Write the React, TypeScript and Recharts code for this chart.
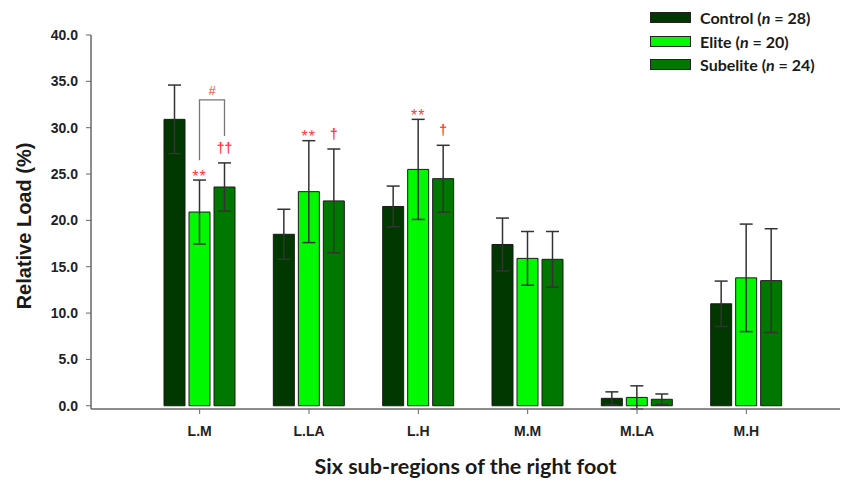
import React from 'react';
import { BarChart, Bar, XAxis, YAxis, ErrorBar, LabelList, Legend } from 'recharts';

// six sub-regions of the right foot
const categories = ['L.M', 'L.LA', 'L.H', 'M.M', 'M.LA', 'M.H'];

// mean relative load (%) and SD per group
const control = [30.9, 18.5, 21.5, 17.4, 0.8, 11.0];
const controlSd = [3.7, 2.7, 2.2, 2.85, 0.7, 2.45];
const elite = [20.9, 23.1, 25.5, 15.9, 0.9, 13.8];
const eliteSd = [3.45, 5.5, 5.4, 2.9, 1.25, 5.8];
const subelite = [23.6, 22.1, 24.5, 15.8, 0.7, 13.5];
const subeliteSd = [2.6, 5.6, 3.6, 3.0, 0.57, 5.6];

const yTicks = [0, 5, 10, 15, 20, 25, 30, 35, 40];

// significance marks above the error bars
const eliteMarks = ['**', '**', '**', '', '', ''];
const subeliteMarks = ['††', '†', '†', '', '', ''];

// bracket between elite and subelite on L.M (in % units)
const bracketLabel = '#';
const bracketTop = 33.0;
const bracketLeftFrom = 26.5;
const bracketRightFrom = 29.1;

const series = [
  { key: 'control', name: 'Control', n: 28, color: '#003800' },
  { key: 'elite', name: 'Elite', n: 20, color: '#00f800' },
  { key: 'subelite', name: 'Subelite', n: 24, color: '#007800' },
];

const data = categories.map((region, i) => ({
  region,
  control: control[i],
  controlSd: controlSd[i],
  elite: elite[i],
  eliteSd: eliteSd[i],
  subelite: subelite[i],
  subeliteSd: subeliteSd[i],
}));

const BAR_SIZE = 21;
const BAR_GAP = 4;
const MARK_COLOR = '#ff3a3a';
const AXIS_COLOR = '#666';

function makeMarks(marks: string[], values: number[], sds: number[], withBracket: boolean) {
  return (props: any) => {
    const vb = props.viewBox ?? props;
    const { x, y, width, height } = vb;
    const value = Number(props.value);
    const idx = props.index ?? values.indexOf(value);
    if (idx == null || idx < 0) return null;
    const ppu = height / value;
    const base = y + height;
    const py = (v: number) => base - v * ppu;
    const cx = x + width / 2;
    const errTop = py(value + sds[idx]);
    const mark = marks[idx];
    const isDagger = mark.includes('†');
    return (
      <g>
        {mark && (
          <text
            x={cx}
            y={errTop + (isDagger ? -10 : 1.5)}
            textAnchor="middle"
            fill={MARK_COLOR}
            fontSize={isDagger ? 14 : 16}
            fontWeight={isDagger ? 700 : 400}
            letterSpacing={isDagger ? 0 : 1}
            fontFamily="Liberation Sans, Arial, sans-serif"
          >
            {mark}
          </text>
        )}
        {withBracket && idx === 0 && (
          <g>
            <path
              d={`M${cx - BAR_SIZE - BAR_GAP},${py(bracketLeftFrom)} V${py(bracketTop)} H${cx} V${py(bracketRightFrom)}`}
              fill="none"
              stroke="#777"
              strokeWidth={1.3}
            />
            <text
              x={cx - (BAR_SIZE + BAR_GAP) / 2}
              y={py(bracketTop) - 5}
              textAnchor="middle"
              fill={MARK_COLOR}
              fontSize={13}
              fontFamily="Liberation Sans, Arial, sans-serif"
            >
              {bracketLabel}
            </text>
          </g>
        )}
      </g>
    );
  };
}

const renderLegend = () => (
  <div style={{ fontFamily: 'Lato, sans-serif', fontWeight: 700, fontSize: 16, color: '#1a1a1a' }}>
    {series.map((s) => (
      <div key={s.key} style={{ display: 'flex', alignItems: 'center', height: 23.5 }}>
        <span
          style={{
            display: 'inline-block',
            boxSizing: 'border-box',
            width: 41,
            height: 11,
            background: s.color,
            border: '1px solid #222',
            marginRight: 9,
          }}
        />
        <span>
          {s.name} (<i>n</i> = {s.n})
        </span>
      </div>
    ))}
  </div>
);

const tickStyle = { fontSize: 14, fontWeight: 700, fill: '#222', fontFamily: 'Liberation Sans, Arial, sans-serif' };

export default function App() {
  return (
    <div style={{ position: 'absolute', left: 0, top: 0, background: '#fff' }}>
      <BarChart
        width={842}
        height={483}
        data={data}
        margin={{ top: 35, right: 2, bottom: 0, left: 0 }}
        barSize={BAR_SIZE}
        barGap={BAR_GAP}
      >
        <XAxis
          dataKey="region"
          height={74}
          padding={{ left: 54, right: 39 }}
          tick={tickStyle}
          tickSize={5}
          tickMargin={12}
          axisLine={{ stroke: AXIS_COLOR, strokeWidth: 1.5 }}
          tickLine={{ stroke: AXIS_COLOR }}
          label={{
            content: (p: any) => {
              const vb = p.viewBox;
              return (
                <text
                  x={vb.x + vb.width / 2}
                  y={vb.y + 65}
                  textAnchor="middle"
                  fontSize={21.5}
                  fontWeight={700}
                  fontFamily="Lato, sans-serif"
                  fill="#1a1a1a"
                >
                  Six sub-regions of the right foot
                </text>
              );
            },
          }}
        />
        <YAxis
          width={91}
          domain={[0, 40]}
          ticks={yTicks}
          interval={0}
          tickFormatter={(v: number) => v.toFixed(1)}
          tick={tickStyle}
          tickSize={5}
          tickMargin={8}
          axisLine={{ stroke: AXIS_COLOR, strokeWidth: 1.5 }}
          tickLine={{ stroke: AXIS_COLOR }}
          label={{
            content: () => (
              <text
                x={31}
                y={226}
                transform="rotate(-90, 31, 226)"
                textAnchor="middle"
                fontSize={20}
                fontWeight={700}
                fontFamily="Liberation Sans, Arial, sans-serif"
                fill="#1a1a1a"
              >
                Relative Load (%)
              </text>
            ),
          }}
        />
        <Legend
          layout="vertical"
          align="center"
          verticalAlign="middle"
          content={renderLegend}
          wrapperStyle={{ top: 6, left: 650, width: 190 }}
        />
        <Bar dataKey="control" name="Control" fill={series[0].color} stroke="#1a1a1a" strokeWidth={1} isAnimationActive={false}>
          <ErrorBar dataKey="controlSd" width={6.5} stroke="#333" strokeWidth={1.5} isAnimationActive={false} />
        </Bar>
        <Bar dataKey="elite" name="Elite" fill={series[1].color} stroke="#1a1a1a" strokeWidth={1} isAnimationActive={false}>
          <ErrorBar dataKey="eliteSd" width={6.5} stroke="#333" strokeWidth={1.5} isAnimationActive={false} />
          <LabelList dataKey="elite" content={makeMarks(eliteMarks, elite, eliteSd, false)} />
        </Bar>
        <Bar dataKey="subelite" name="Subelite" fill={series[2].color} stroke="#1a1a1a" strokeWidth={1} isAnimationActive={false}>
          <ErrorBar dataKey="subeliteSd" width={6.5} stroke="#333" strokeWidth={1.5} isAnimationActive={false} />
          <LabelList dataKey="subelite" content={makeMarks(subeliteMarks, subelite, subeliteSd, true)} />
        </Bar>
      </BarChart>
    </div>
  );
}
